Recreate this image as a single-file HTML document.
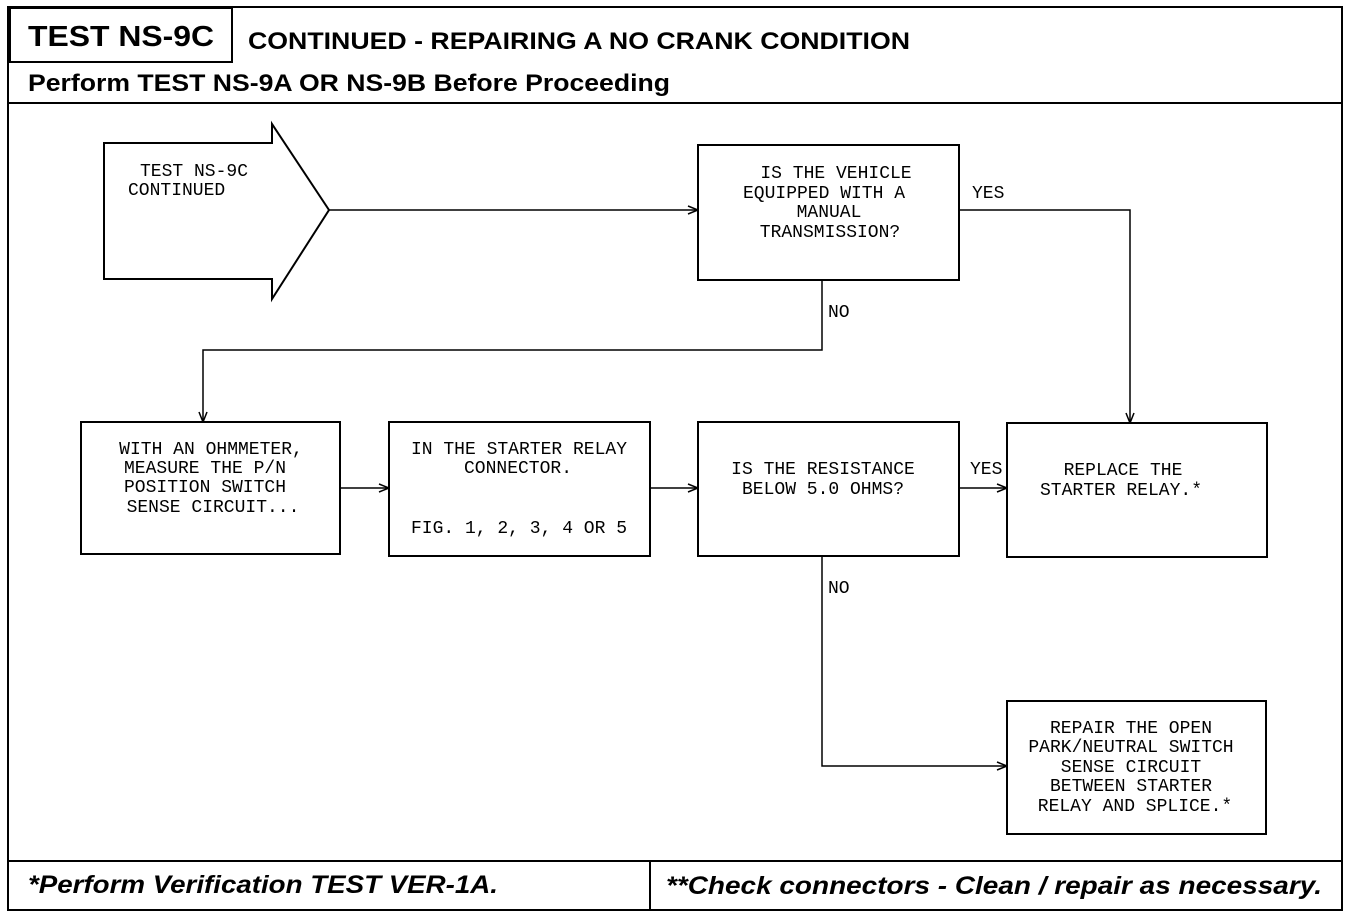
<!DOCTYPE html>
<html><head><meta charset="utf-8"><style>
html,body{margin:0;padding:0;background:#fff;}
svg{display:block;}
.m{font-family:"Liberation Mono",monospace;font-size:18px;fill:#000;text-anchor:middle;}
.l{font-family:"Liberation Mono",monospace;font-size:18px;fill:#000;}
.h{font-family:"Liberation Sans",Arial,sans-serif;font-weight:bold;fill:#000;}
</style></head><body>
<svg width="1360" height="920" viewBox="0 0 1360 920" xmlns="http://www.w3.org/2000/svg">
<defs><marker id="a" markerWidth="12" markerHeight="10" refX="11" refY="5" orient="auto" markerUnits="userSpaceOnUse"><path d="M1,1 L11,5 L1,9" fill="none" stroke="#000" stroke-width="1.5"/></marker></defs>
<g fill="none" stroke="#000" stroke-width="2">
<rect x="8" y="7" width="1334" height="903"/>
<rect x="10" y="8" width="222" height="54"/>
<line x1="8" y1="103" x2="1342" y2="103"/>
<line x1="8" y1="861" x2="1342" y2="861"/>
<line x1="650" y1="861" x2="650" y2="910"/>
<path d="M104,143 H272 V124 L329,210 L272,299 V279 H104 Z"/>
<rect x="698" y="145" width="261" height="135"/>
<rect x="81" y="422" width="259" height="132"/>
<rect x="389" y="422" width="261" height="134"/>
<rect x="698" y="422" width="261" height="134"/>
<rect x="1007" y="423" width="260" height="134"/>
<rect x="1007" y="701" width="259" height="133"/>
</g>
<g fill="none" stroke="#000" stroke-width="1.5">
<line x1="329" y1="210" x2="698" y2="210" marker-end="url(#a)"/>
<polyline points="959,210 1130,210 1130,423" marker-end="url(#a)"/>
<polyline points="822,280 822,350 203,350 203,422" marker-end="url(#a)"/>
<line x1="340" y1="488" x2="389" y2="488" marker-end="url(#a)"/>
<line x1="650" y1="488" x2="698" y2="488" marker-end="url(#a)"/>
<line x1="959" y1="488" x2="1007" y2="488" marker-end="url(#a)"/>
<polyline points="822,556 822,766 1007,766" marker-end="url(#a)"/>
</g>
<text class="h" x="28" y="46" font-size="29" textLength="186" lengthAdjust="spacingAndGlyphs">TEST NS-9C</text>
<text class="h" x="248" y="49" font-size="24" textLength="662" lengthAdjust="spacingAndGlyphs">CONTINUED - REPAIRING A NO CRANK CONDITION</text>
<text class="h" x="28" y="91" font-size="24" textLength="642" lengthAdjust="spacingAndGlyphs">Perform TEST NS-9A OR NS-9B Before Proceeding</text>
<text class="h" x="28" y="893" font-size="25" font-style="italic" textLength="470" lengthAdjust="spacingAndGlyphs">*Perform Verification TEST VER-1A.</text>
<text class="h" x="666" y="894" font-size="25" font-style="italic" textLength="656" lengthAdjust="spacingAndGlyphs">**Check connectors - Clean / repair as necessary.</text>
<text class="l" x="140" y="176">TEST NS-9C</text>
<text class="l" x="128" y="195">CONTINUED</text>
<text class="m" x="836" y="178">IS THE VEHICLE</text>
<text class="m" x="824" y="198">EQUIPPED WITH A</text>
<text class="m" x="829" y="217">MANUAL</text>
<text class="m" x="830" y="237">TRANSMISSION?</text>
<text class="l" x="972" y="198">YES</text>
<text class="l" x="828" y="317">NO</text>
<text class="m" x="211" y="454">WITH AN OHMMETER,</text>
<text class="m" x="205" y="473">MEASURE THE P/N</text>
<text class="m" x="205" y="492">POSITION SWITCH</text>
<text class="m" x="213" y="512">SENSE CIRCUIT...</text>
<text class="m" x="519" y="454">IN THE STARTER RELAY</text>
<text class="m" x="518" y="473">CONNECTOR.</text>
<text class="m" x="519" y="533">FIG. 1, 2, 3, 4 OR 5</text>
<text class="m" x="823" y="474">IS THE RESISTANCE</text>
<text class="m" x="823" y="494">BELOW 5.0 OHMS?</text>
<text class="l" x="970" y="474">YES</text>
<text class="m" x="1123" y="475">REPLACE THE</text>
<text class="m" x="1121" y="495">STARTER RELAY.*</text>
<text class="l" x="828" y="593">NO</text>
<text class="m" x="1131" y="733">REPAIR THE OPEN</text>
<text class="m" x="1131" y="752">PARK/NEUTRAL SWITCH</text>
<text class="m" x="1131" y="772">SENSE CIRCUIT</text>
<text class="m" x="1131" y="791">BETWEEN STARTER</text>
<text class="m" x="1135" y="811">RELAY AND SPLICE.*</text>
</svg>
</body></html>
